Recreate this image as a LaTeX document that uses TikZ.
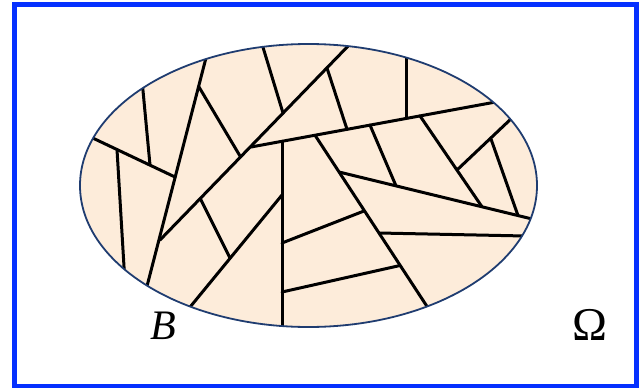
\documentclass[tikz,border=0pt]{standalone}
\usepackage{fontspec}
\usepackage{graphicx}
\usepackage{xcolor}
\newfontfamily\omegafont{Liberation Serif}
\definecolor{framecol}{RGB}{5,48,255}
\definecolor{setfill}{RGB}{253,236,218}
\definecolor{setline}{RGB}{31,60,112}
\begin{document}
\begin{tikzpicture}[x=1pt, y=-1pt,
    crack/.style={line width=3pt, line cap=round},
    setlabel/.style={inner sep=0pt, text=black}]
    \useasboundingbox (0,0) rectangle (639,388);
    \draw [framecol, line width=4.6pt] (14.6,4.5) rectangle (636.5,386);

    \fill [setfill] (308.5,185.5) ellipse [x radius=228.5, y radius=141.5];
    \begin{scope}
        \clip (308.5,185.5) ellipse [x radius=228.5, y radius=141.5];
        \draw [crack] (80,132) -- (175,177);
        \draw [crack] (142,80) -- (150,165);
        \draw [crack] (117,149.5) -- (124.5,275);
        \draw [crack] (207,54) -- (146,290);
        \draw [crack] (199,87) -- (240,156);
        \draw [crack] (352,42) -- (160,240);
        \draw [crack] (262,44) -- (283,113);
        \draw [crack] (327,68) -- (347,129.3);
        \draw [crack] (406,50) -- (406,118.5);
        \draw [crack] (251,147) -- (500,101.2);
        \draw [crack] (282,141.3) -- (282,332);
        \draw [crack] (315,135.2) -- (433,315.6);
        \draw [crack] (339,172) -- (535,219.7);
        \draw [crack] (370,125.1) -- (396,185.9);
        \draw [crack] (420,115.9) -- (482,206.8);
        \draw [crack] (513,117) -- (457,170);
        \draw [crack] (491,139) -- (518,215.6);
        \draw [crack] (282,243) -- (364,211);
        \draw [crack] (379,233) -- (540,236.3);
        \draw [crack] (282,292) -- (400,265.5);
        \draw [crack] (200.5,199) -- (230,258);
        \draw [crack] (282,195) -- (186,312);
    \end{scope}
    \draw [setline, line width=1.8pt] (308.5,185.5) ellipse [x radius=228.5, y radius=141.5];

    \node [setlabel] (labelB) at (163.5,325.5) {\fontsize{42}{42}\selectfont\omegafont\itshape B};
    \node [setlabel] (labelOmega) at (589.5,324.5) {\fontsize{47}{47}\selectfont\omegafont Ω};
\end{tikzpicture}
\end{document}
